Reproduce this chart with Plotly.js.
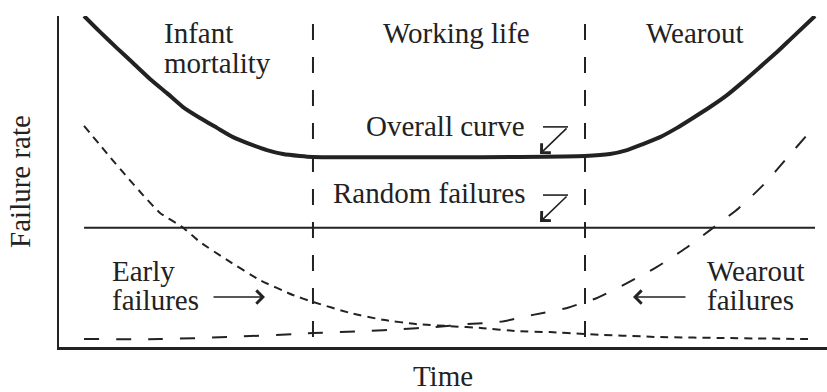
<!DOCTYPE html>
<html><head><meta charset="utf-8">
<script src="https://cdn.plot.ly/plotly-3.0.1.min.js"></script>
<style>html,body{margin:0;padding:0;background:#fff}#chart{width:827px;height:392px}</style>
</head><body><div id="chart"></div>
<script>
// Bathtub curve: values (time 0-100, rate 0-100)
const overallTime = [3.26, 5.34, 7.55, 9.64, 11.85, 14.06, 16.15, 18.36, 20.57, 22.66, 24.87, 27.08, 29.17, 31.38, 33.07, 40, 50, 60, 68.49, 71.74, 73.96, 76.04, 78.26, 80.47, 82.55, 84.77, 86.98, 89.06, 91.28, 93.49, 95.57, 98.44];
const overallRate = [100, 95.2, 90.3, 85.8, 81.0, 76.7, 72.5, 69.2, 66.2, 63.4, 61.3, 59.5, 58.3, 57.7, 57.4, 57.3, 57.3, 57.4, 57.7, 58.3, 59.5, 61.3, 63.4, 66.2, 69.2, 72.5, 76.1, 80.1, 84.6, 89.1, 93.7, 100];

const randomTime = [3.26, 98.44];
const randomRate = [36.0, 36.0];

const earlyTime = [3.26, 6.64, 8.85, 10.94, 13.15, 16.02, 18.36, 21.88, 26.17, 30.47, 33.07, 37.89, 42.19, 46.61, 50.91, 55.21, 59.64, 63.93, 68.49, 78.26, 86.98, 97.53];
const earlyRate = [66.8, 57.4, 51.4, 45.9, 40.5, 36.3, 31.7, 26.3, 20.2, 15.7, 13.6, 10.3, 8.2, 6.9, 6.3, 5.7, 4.8, 4.5, 3.9, 3.0, 2.7, 2.4];

const wearTime = [3.26, 13.15, 21.88, 30.47, 33.07, 40.10, 44.40, 48.70, 53.13, 57.42, 61.72, 66.15, 68.49, 70.05, 73.96, 77.86, 81.64, 85.16, 88.54, 91.80, 94.79, 98.44];
const wearRate = [2.4, 2.4, 3.0, 3.9, 4.2, 4.8, 5.4, 6.0, 6.9, 7.6, 9.7, 11.8, 13.6, 14.8, 19.3, 24.2, 29.9, 36.0, 42.0, 49.2, 57.1, 66.8];

const phaseBoundaries = [33.07, 68.49];
const phaseSpan = [3.0, 100];

const xTitle = 'Time';
const yTitle = 'Failure rate';

const ink = '#222';
const FONT = 'Liberation Serif, Times New Roman, serif';
const FS = 29;

const traces = [
  {x: overallTime, y: overallRate, mode: 'lines', line: {color: ink, width: 4, shape: 'spline', smoothing: 0.6}, hoverinfo: 'skip'},
  {x: randomTime, y: randomRate, mode: 'lines', line: {color: ink, width: 2}, hoverinfo: 'skip'},
  {x: earlyTime, y: earlyRate, mode: 'lines', line: {color: ink, width: 2, dash: '8px,6px', shape: 'spline', smoothing: 0.4}, hoverinfo: 'skip'},
  {x: wearTime, y: wearRate, mode: 'lines', line: {color: ink, width: 2, dash: '15px,17px', shape: 'spline', smoothing: 0.6}, hoverinfo: 'skip'}
];
phaseBoundaries.forEach(b => traces.push({
  x: [b, b], y: phaseSpan, mode: 'lines', line: {color: ink, width: 2, dash: '16px,17px'}, hoverinfo: 'skip'
}));

function label(text, x, y, xanchor) {
  return {text: text, x: x, y: y, xref: 'x', yref: 'y', xanchor: xanchor || 'center', yanchor: 'middle',
          showarrow: false, font: {family: FONT, size: FS, color: ink}};
}
function arrow(x, y, ax, ay) {
  return {text: '', x: x, y: y, ax: ax, ay: ay, xref: 'x', yref: 'y', axref: 'x', ayref: 'y',
          showarrow: true, arrowhead: 4, arrowsize: 1.6, arrowwidth: 1.6, arrowcolor: ink, standoff: 0, startstandoff: 0};
}

const annotations = [
  label('Infant', 13.41, 95.0, 'left'),
  label('mortality', 13.41, 85.95, 'left'),
  label('Working life', 51.7, 95.0),
  label('Wearout', 82.8, 95.0),
  label('Overall curve', 50.26, 66.9),
  label('Random failures', 48.24, 46.4),
  label('Early', 6.64, 23.1, 'left'),
  label('failures', 6.64, 14.35, 'left'),
  label('Wearout', 84.1, 23.1, 'left'),
  label('failures', 84.1, 14.35, 'left'),
  arrow(26.82, 15.1, 19.92, 15.1),
  arrow(74.74, 15.1, 81.77, 15.1),
  arrow(62.63, 58.3, 66.28, 66.5),
  arrow(62.63, 37.8, 66.28, 45.9)
];

const shapes = [
  {type: 'line', xref: 'x', yref: 'y', x0: 63.02, x1: 66.28, y0: 66.5, y1: 66.5, line: {color: ink, width: 1.6}},
  {type: 'line', xref: 'x', yref: 'y', x0: 63.02, x1: 66.28, y0: 45.9, y1: 45.9, line: {color: ink, width: 1.6}}
];

const layout = {
  width: 827, height: 392,
  margin: {l: 59, r: 0, t: 16, b: 45, pad: 0},
  paper_bgcolor: '#fff', plot_bgcolor: '#fff',
  showlegend: false,
  xaxis: {range: [0, 100], showgrid: false, zeroline: false, showticklabels: false, ticks: '',
          showline: true, linecolor: ink, linewidth: 2.5, fixedrange: true,
          title: {text: xTitle, font: {family: FONT, size: FS, color: ink}, standoff: 19}},
  yaxis: {range: [0, 100], showgrid: false, zeroline: false, showticklabels: false, ticks: '',
          showline: true, linecolor: ink, linewidth: 2.5, fixedrange: true,
          title: {text: yTitle, font: {family: FONT, size: FS, color: ink}, standoff: 18}},
  annotations: annotations,
  shapes: shapes
};

Plotly.newPlot('chart', traces, layout, {staticPlot: true, displayModeBar: false});
</script>
</body></html>
